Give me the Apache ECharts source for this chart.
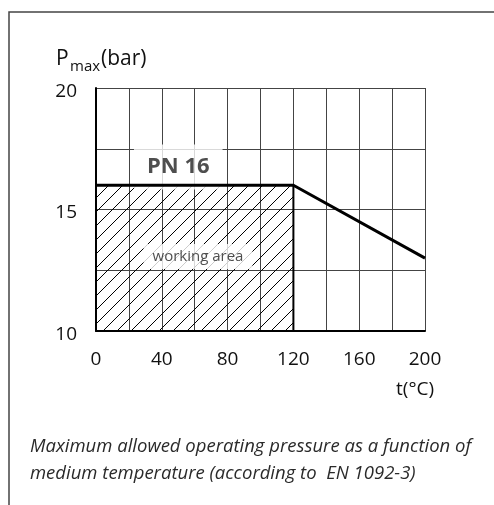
<!DOCTYPE html>
<html>
<head>
<meta charset="utf-8">
<script src="https://cdn.jsdelivr.net/npm/echarts@6/dist/echarts.min.js"></script>
<style>html,body{margin:0;padding:0;background:#fff;}#c{width:494px;height:505px;}</style>
</head>
<body>
<div id="c"></div>
<script>
// Data
var temps = [0, 120, 200];
var pressures = [16, 16, 13];
var xTicks = [0, 40, 80, 120, 160, 200];
var yTicks = [10, 15, 20];
var pnLabel = 'PN 16';
var pnPos = [50, 16.75];
var areaLabel = 'working area';
var areaPos = [62, 13.07];
var caption = 'Maximum allowed operating pressure as a function of\nmedium temperature (according to  EN 1092-3)';

var FONT = '"Open Sans", "Noto Sans", sans-serif';

// hatch pattern
var tile = document.createElement('canvas');
tile.width = 14; tile.height = 14;
var ctx = tile.getContext('2d');
ctx.strokeStyle = '#000';
ctx.lineWidth = 1;
[-14, 0, 14].forEach(function (k) {
  ctx.beginPath(); ctx.moveTo(k, 14); ctx.lineTo(k + 14, 0); ctx.stroke();
});

var chart = echarts.init(document.getElementById('c'), null, {renderer: 'canvas'});
var option = {
  animation: false,
  grid: {left: 96, top: 88, right: 69, bottom: 174, containLabel: false},
  xAxis: {
    type: 'value', min: 0, max: 200, interval: 20,
    axisLine: {show: true, onZero: false, lineStyle: {color: '#000', width: 2}},
    axisTick: {show: false},
    axisLabel: {
      margin: 19, color: '#111', fontSize: 19, fontFamily: FONT,
      formatter: function (v) { return xTicks.indexOf(v) >= 0 ? String(v) : ''; }
    },
    splitLine: {show: true, lineStyle: {color: '#444', width: 1}}
  },
  yAxis: {
    type: 'value', min: 10, max: 20, interval: 2.5,
    axisLine: {show: true, onZero: false, lineStyle: {color: '#000', width: 2}},
    axisTick: {show: false},
    axisLabel: {
      margin: 19, color: '#111', fontSize: 19, fontFamily: FONT,
      formatter: function (v) { return yTicks.indexOf(v) >= 0 ? '{a|' + v + '}' : ''; },
      rich: {a: {fontSize: 19, color: '#111', fontFamily: FONT, padding: [7, 0, 0, 0]}}
    },
    splitLine: {show: true, lineStyle: {color: '#444', width: 1}}
  },
  series: [
    {
      type: 'line', z: 1, silent: true, symbol: 'none',
      data: [[temps[0], pressures[0]], [temps[1], pressures[1]]],
      lineStyle: {width: 0},
      areaStyle: {origin: 'start', color: {image: tile, repeat: 'repeat'}, opacity: 1}
    },
    {
      type: 'line', z: 3, silent: true, symbol: 'none',
      data: [[temps[1], 10], [temps[1], pressures[1]]],
      lineStyle: {color: '#000', width: 2}
    },
    {
      type: 'scatter', z: 4, silent: true, symbolSize: 0,
      data: [pnPos],
      label: {
        show: true, position: 'inside', formatter: pnLabel,
        fontSize: 22, fontWeight: 'bold', color: '#222', fontFamily: FONT,
        backgroundColor: '#fff', padding: [12, 13, 11, 13]
      }
    },
    {
      type: 'scatter', z: 4, silent: true, symbolSize: 0,
      data: [areaPos],
      label: {
        show: true, position: 'inside', formatter: areaLabel,
        fontSize: 15, color: '#222', fontFamily: FONT,
        backgroundColor: '#fff', padding: [5, 9, 5, 9]
      }
    },
    {
      type: 'line', z: 5, silent: true, symbol: 'none',
      data: temps.map(function (t, i) { return [t, pressures[i]]; }),
      lineStyle: {color: '#000', width: 3}
    }
  ],
  graphic: [
    {type: 'rect', z: 0, shape: {x: 9, y: 12, width: 600, height: 600},
     style: {fill: null, stroke: '#444', lineWidth: 1.5}},
    {type: 'text', left: 56, top: 49, style: {text: 'P', font: '21px ' + FONT, fill: '#111'}},
    {type: 'text', left: 70, top: 59, style: {text: 'max', font: '15px ' + FONT, fill: '#111'}},
    {type: 'text', left: 101, top: 49, style: {text: '(bar)', font: '21px ' + FONT, fill: '#111'}},
    {type: 'text', left: 396, top: 380, style: {text: 't(°C)', font: '19px ' + FONT, fill: '#111'}},
    {type: 'text', left: 30, top: 433, style: {text: caption, font: 'italic 18.5px ' + FONT, fill: '#2a2a2a', lineHeight: 27}}
  ]
};
chart.setOption(option);
</script>
</body>
</html>
